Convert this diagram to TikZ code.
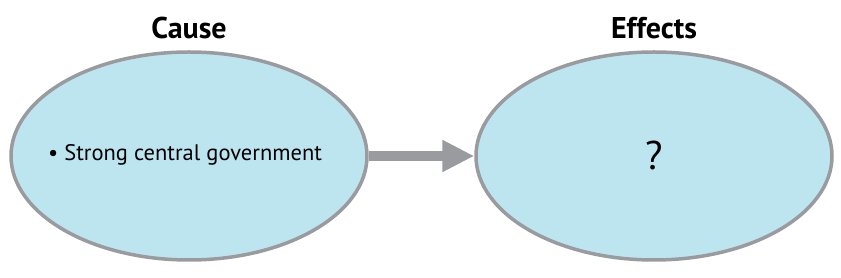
\documentclass[tikz,border=0pt]{standalone}
\usepackage{fontspec}
\setmainfont{PT Sans}
\usetikzlibrary{shapes.geometric,arrows.meta,positioning}

\definecolor{bubblefill}{HTML}{BDE5F0}
\definecolor{bubbleline}{HTML}{9A9B9F}

\begin{document}
\begin{tikzpicture}[x=1pt, y=1pt,
    bubble/.style={ellipse, draw=bubbleline, fill=bubblefill, line width=3.5pt,
        minimum width=356pt, minimum height=208pt, inner sep=0pt},
    heading/.style={font=\bfseries\fontsize{30}{34}\selectfont}]
    \useasboundingbox (0,0) rectangle (841,278);

    % Two bubbles
    \node[bubble] (cause) at (189,122) {};
    \node[bubble] (effects) at (654,122) {};

    % Headings
    \node[heading] (causehead) at (189,250) {Cause};
    \node[heading] (effectshead) at (654,250) {Effects};

    % Contents
    \node[font=\fontsize{22.5}{26}\selectfont, anchor=west, inner sep=0pt] (causetext) at (48,123) {\textbullet\ Strong central government};
    \node[font=\fontsize{40}{48}\selectfont] (effectstext) at (654,122) {?};

    % Connector
    \draw[bubbleline, line width=10pt, -{Triangle[length=32pt, width=30pt]}] (cause.east) -- (effects.west);
\end{tikzpicture}
\end{document}
